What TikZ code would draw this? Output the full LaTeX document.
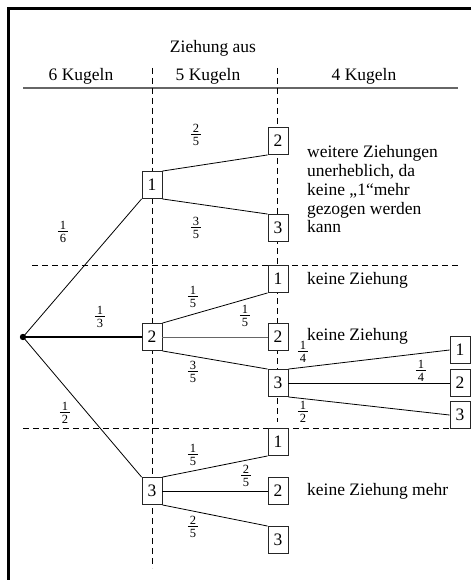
\documentclass[tikz,border=0pt]{standalone}
\usepackage{fontspec}
\setmainfont{Liberation Serif}
\newcommand\fr[2]{\vbox{\fontsize{12.5}{12.5}\selectfont\offinterlineskip\halign{\hfil\kern2pt##\kern2pt\hfil\cr #1\cr\noalign{\vskip2pt\hrule height0.6pt\vskip2.5pt}#2\cr}}}
\begin{document}
\begin{tikzpicture}[x=1pt,y=-1pt,
  every node/.style={font=\fontsize{17.5}{18.75}\selectfont},
  box/.style={draw=black!85,fill=white,line width=0.9pt,minimum width=20pt,minimum height=27pt,inner sep=0pt},
  edge/.style={line width=0.8pt},
  dashline/.style={dashed,dash pattern=on 6pt off 4pt,line width=0.8pt},
  lbl/.style={inner sep=0pt},
  txt/.style={anchor=west,align=left,inner sep=0pt}]
\useasboundingbox (0,0) rectangle (471,580);
% frame
\draw[line width=2.5pt] (471,8.5) -- (8.5,8.5) -- (8.5,580);
% headings
\node (z) at (213,48) {Ziehung aus};
\node (h6) at (81,76) {6 Kugeln};
\node (h5) at (208,76) {5 Kugeln};
\node (h4) at (364,76) {4 Kugeln};
\draw[black!60,line width=1.3pt] (23,88) -- (458,88);
% dashed grid
\draw[dashline] (152,68) -- (152,568);
\draw[dashline] (277,68) -- (277,422);
\draw[dashline] (32,265) -- (458,265);
\draw[dashline] (23,428) -- (452,428);
% nodes
\coordinate (r) at (23,337);
\node[box] (a1) at (152,185) {1};
\node[box] (a2) at (152,337) {2};
\node[box] (a3) at (152,491) {3};
\node[box] (b12) at (278,141) {2};
\node[box] (b13) at (278,228) {3};
\node[box] (b21) at (278,279) {1};
\node[box] (b22) at (278,337) {2};
\node[box] (b23) at (278,383) {3};
\node[box] (b31) at (278,442) {1};
\node[box] (b32) at (278,491) {2};
\node[box] (b33) at (278,540) {3};
\node[box] (c1) at (460,350) {1};
\node[box] (c2) at (460,383) {2};
\node[box] (c3) at (460,415) {3};
% edges
\draw[edge] (r) -- (a1.south west);
\draw[line width=1.6pt] (r) -- (a2.west);
\draw[edge] (r) -- (a3.north west);
\draw[edge] (a1.north east) -- (b12.south west);
\draw[edge] (a1.south east) -- (b13.north west);
\draw[edge] (a2.north east) -- (b21.south west);
\draw[edge,black!60] (a2.east) -- (b22.west);
\draw[edge] (a2.south east) -- (b23.north west);
\draw[edge] (a3.north east) -- (b31.south west);
\draw[edge] (a3.east) -- (b32.west);
\draw[edge] (a3.south east) -- (b33.north west);
\draw[edge] (b23.north east) -- (c1.west);
\draw[edge] (b23.east) -- (c2.west);
\draw[edge] (b23.south east) -- (c3.west);
\fill (r) circle (3.2pt);
% probabilities
\node[lbl] (p1) at (63,232) {\fr16};
\node[lbl] (p2) at (100,317) {\fr13};
\node[lbl] (p3) at (65,413) {\fr12};
\node[lbl] (p4) at (196,135) {\fr25};
\node[lbl] (p5) at (196,228) {\fr35};
\node[lbl] (p6) at (193,297) {\fr15};
\node[lbl] (p7) at (245,316) {\fr15};
\node[lbl] (p8) at (193,372) {\fr35};
\node[lbl] (p9) at (303,352) {\fr14};
\node[lbl] (p10) at (421,371) {\fr14};
\node[lbl] (p11) at (303,412) {\fr12};
\node[lbl] (p12) at (193,455) {\fr15};
\node[lbl] (p13) at (246,476) {\fr25};
\node[lbl] (p14) at (193,527) {\fr25};
% comments
\node[txt] (t1) at (307,189.5) {weitere Ziehungen\\unerheblich, da\\keine „1“mehr\\gezogen werden\\kann};
\node[txt] (t2) at (307,280) {keine Ziehung};
\node[txt] (t3) at (307,336) {keine Ziehung};
\node[txt] (t4) at (307,491) {keine Ziehung mehr};
\end{tikzpicture}
\end{document}
